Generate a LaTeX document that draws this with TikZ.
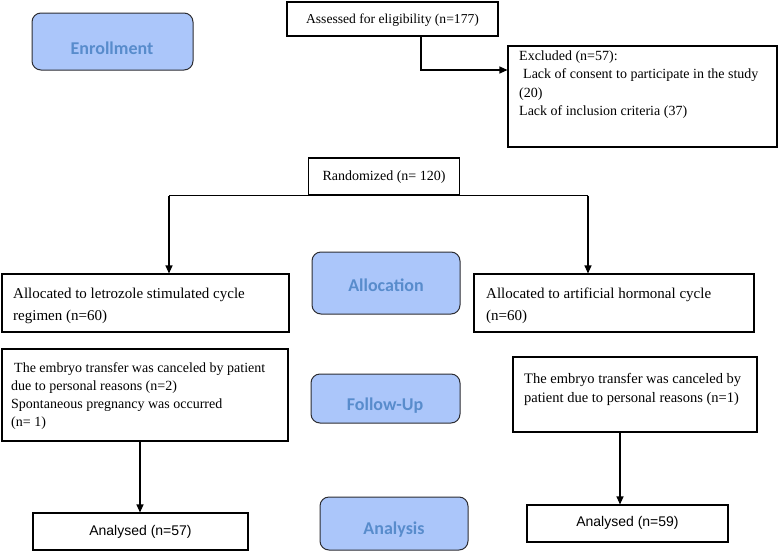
\documentclass[tikz,border=0pt]{standalone}
\usepackage{fontspec}
\setmainfont{Liberation Serif}
\newfontfamily\lsans{Liberation Sans}
\newfontfamily\carlito{Carlito}
\usetikzlibrary{arrows.meta,calc}
\definecolor{phasefill}{RGB}{171,198,250}
\definecolor{phasetext}{RGB}{88,140,204}
\definecolor{phaseline}{RGB}{45,45,50}
\tikzset{
  box/.style={draw=black, line width=1.1pt, rectangle, inner sep=0pt},
  phase/.style={draw=phaseline, fill=phasefill, rounded corners=9pt, line width=1pt, inner sep=0pt},
  phaselbl/.style={font=\carlito\bfseries\fontsize{18}{20}\selectfont, text=phasetext, inner sep=0pt},
  tline/.style={font=\fontsize{15}{18}\selectfont, anchor=base west, inner sep=0pt},
  mline/.style={font=\fontsize{14.5}{18}\selectfont, anchor=base west, inner sep=0pt},
  sline/.style={font=\fontsize{14}{18}\selectfont, anchor=base west, inner sep=0pt},
  ctr/.style={font=\fontsize{14}{18}\selectfont, inner sep=0pt},
  sans/.style={font=\lsans\fontsize{14}{18}\selectfont, inner sep=0pt},
  arr/.style={-{Triangle[length=8pt,width=7pt]}, line width=1.1pt},
  conn/.style={line width=1.1pt}
}
\begin{document}
\begin{tikzpicture}[x=1pt,y=1pt]
\useasboundingbox (0,0) rectangle (779,-552);
% phase boxes
\node[phase, minimum width=161pt, minimum height=57pt] (enr) at (112.5,-41.5) {};
\node[phaselbl] (enrt) at (112,-48) {Enrollment};
\node[phase, minimum width=148pt, minimum height=62pt] (alc) at (386,-283) {};
\node[phaselbl] (alct) at (386,-285) {Allocation};
\node[phase, minimum width=149pt, minimum height=49pt] (fu) at (385.5,-398.5) {};
\node[phaselbl] (fut) at (385,-406) {Follow-Up};
\node[phase, minimum width=148pt, minimum height=53pt] (ana) at (394,-523.5) {};
\node[phaselbl] (anat) at (394,-530) {Analysis};
% assessed
\node[box, minimum width=211pt, minimum height=34pt] (ass) at (392.5,-19) {};
\node[ctr, font=\fontsize{13.6}{18}\selectfont] (asst) at (392.5,-20) {Assessed for eligibility (n=177)};
% excluded
\node[box, minimum width=269pt, minimum height=101pt] (exc) at (642.5,-96.5) {};
\node[sline] (ex1) at (519,-60) {Excluded (n=57):};
\node[sline] (ex2) at (523,-78) {Lack of consent to participate in the study};
\node[sline] (ex3) at (519,-97) {(20)};
\node[sline] (ex4) at (519,-115) {Lack of inclusion criteria (37)};
% randomized
\node[box, minimum width=151pt, minimum height=37pt] (ran) at (384,-176.5) {};
\node[ctr] (rant) at (384,-177) {Randomized (n= 120)};
% allocation boxes
\node[box, minimum width=287pt, minimum height=58pt] (alL) at (145.5,-303) {};
\node[tline] (al1) at (13,-298) {Allocated to letrozole stimulated cycle};
\node[tline] (al2) at (13,-320) {regimen (n=60)};
\node[box, minimum width=280pt, minimum height=58pt] (alR) at (614,-303) {};
\node[tline] (ar1) at (486,-298) {Allocated to artificial hormonal cycle};
\node[tline] (ar2) at (486,-320) {(n=60)};
% follow-up boxes
\node[box, minimum width=286pt, minimum height=92pt] (fuL) at (145,-395) {};
\node[sline] (fl1) at (14,-372) {The embryo transfer was canceled by patient};
\node[sline] (fl2) at (11,-390) {due to personal reasons (n=2)};
\node[sline] (fl3) at (11,-408) {Spontaneous pregnancy was occurred};
\node[sline] (fl4) at (11,-426) {(n= 1)};
\node[box, minimum width=244pt, minimum height=75pt] (fuR) at (635,-394.5) {};
\node[mline] (fr1) at (524,-383) {The embryo transfer was canceled by};
\node[mline] (fr2) at (524,-402) {patient due to personal reasons (n=1)};
% analysed boxes
\node[box, minimum width=215pt, minimum height=37pt] (anL) at (140.5,-531.5) {};
\node[sans] (anLt) at (140.5,-532) {Analysed (n=57)};
\node[box, minimum width=201pt, minimum height=37pt] (anR) at (627.5,-523.5) {};
\node[sans] (anRt) at (627.5,-523) {Analysed (n=59)};
% connectors
\coordinate (c1) at (421,-70);
\draw[arr] (ass.south -| c1) -- (c1) -- (exc.west |- c1);
\coordinate (sl) at (169,-195.5);
\coordinate (sr) at (588,-195.5);
\draw[conn] (sl) -- (sr);
\draw[arr] (sl) -- (alL.north -| sl);
\draw[arr] (sr) -- (alR.north -| sr);
\coordinate (dl) at (140,-441);
\draw[arr] (fuL.south -| dl) -- (anL.north -| dl);
\coordinate (dr) at (620,-432);
\draw[arr] (fuR.south -| dr) -- (anR.north -| dr);
\end{tikzpicture}
\end{document}
